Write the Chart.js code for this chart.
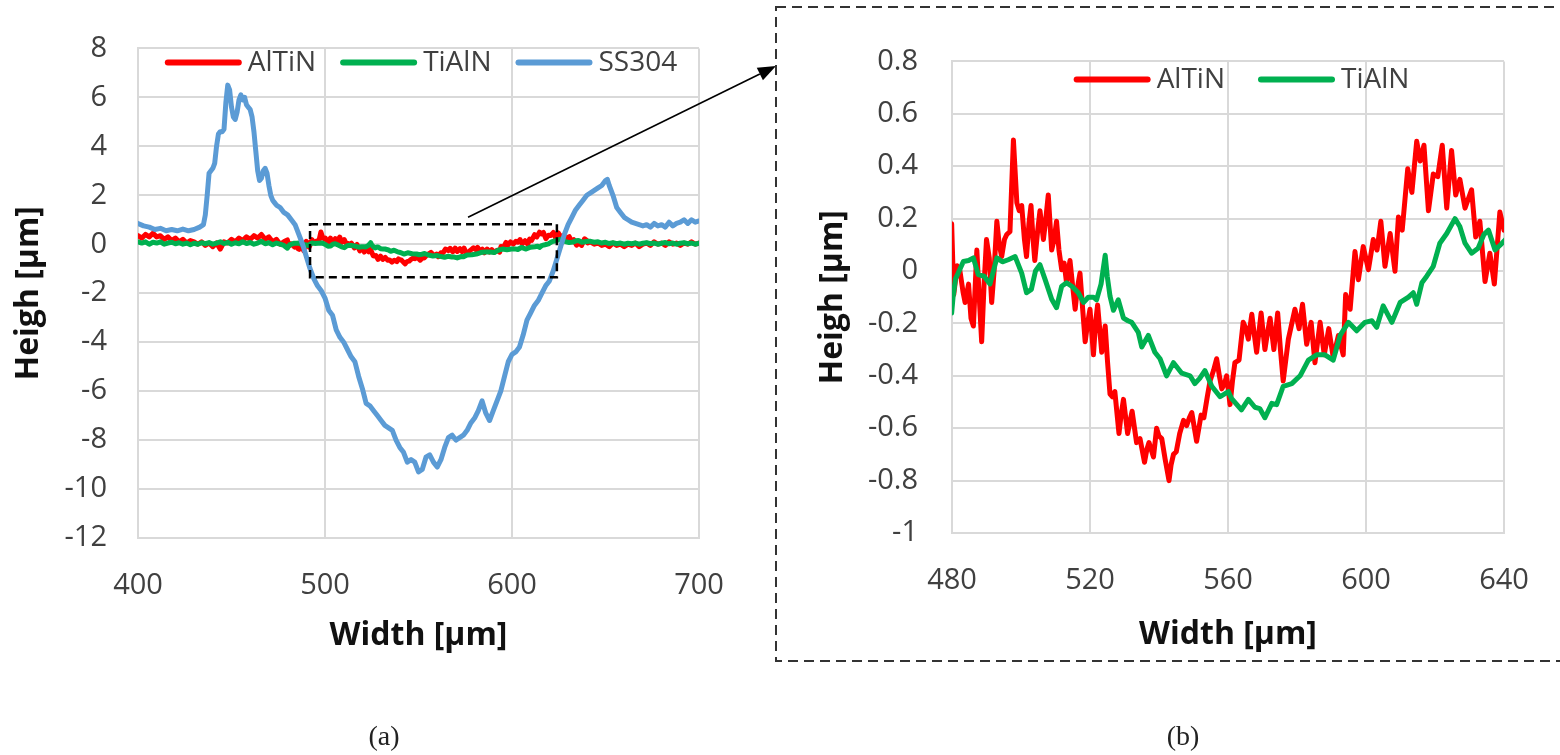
<!DOCTYPE html>
<html><head><meta charset="utf-8">
<script src="https://cdn.jsdelivr.net/npm/chart.js@4.4.1/dist/chart.umd.min.js"></script>
<style>
html,body{margin:0;padding:0;background:#fff;width:1560px;height:755px;overflow:hidden;position:relative}
#ca{position:absolute;left:0;top:0}
#cb{position:absolute;left:780px;top:10px}
#ov{position:absolute;left:0;top:0;pointer-events:none}
.cap{position:absolute;top:720px;font-family:"Liberation Serif","DejaVu Serif",serif;font-size:28px;color:#222;transform:translateX(-50%)}
</style></head><body>
<canvas id="ca" width="780" height="680"></canvas>
<canvas id="cb" width="780" height="650"></canvas>
<svg id="ov" width="1560" height="755"><rect x="776" y="7" width="820" height="654" fill="none" stroke="#333" stroke-width="2" stroke-dasharray="10 6"/></svg>
<div class="cap" style="left:384px">(a)</div>
<div class="cap" style="left:1183px">(b)</div>
<script>
// ---------- categories / tick labels ----------
const seriesNames = ['AlTiN', 'TiAlN', 'SS304'];
const xTicksA = [400, 500, 600, 700];
const yTicksA = [-12, -10, -8, -6, -4, -2, 0, 2, 4, 6, 8];
const xTicksB = [480, 520, 560, 600, 640];
const yTicksB = [-1, -0.8, -0.6, -0.4, -0.2, 0, 0.2, 0.4, 0.6, 0.8];

// ---------- SS304 (chart a) ----------
const ss304X = [400,403,406,409,412,415,418,421,424,427,
430,433,435,436,437,438,439,440,441,442,
443,444,445,446,447,448,449,450,451,452,
453,454,455,456,457,458,459,460,461,462,
463,464,465,466,467,468,469,470,471,472,
473,474,476,478,480,482,484,486,488,490,
492,494,496,498,500,502,504,506,508,510,
512,514,516,518,520,522,524,526,528,530,
532,534,536,538,540,542,544,546,548,550,
552,554,556,558,560,562,564,566,568,570,
572,574,576,578,580,582,584,586,588,590,
592,594,596,598,600,602,604,606,608,610,
612,614,616,618,620,622,624,626,628,630,
632,634,636,638,640,642,644,646,648,650,
651,652,654,656,658,660,662,664,666,668,
670,672,674,676,678,680,682,684,686,688,
690,692,694,696,698,700];
const ss304Y = [0.85,0.75,0.7,0.6,0.65,0.55,0.6,0.55,0.62,0.55,
0.6,0.7,0.8,1.2,2.0,2.9,3.0,3.1,3.3,4.0,
4.5,4.6,4.6,4.7,5.8,6.5,6.3,5.6,5.2,5.1,
5.4,5.9,6.1,5.9,6.0,5.7,5.6,5.5,5.2,4.6,
3.8,3.0,2.6,2.7,3.0,3.1,2.9,2.4,2.0,1.8,
1.7,1.6,1.5,1.3,1.2,1.0,0.8,0.4,0.0,-0.5,
-1.0,-1.4,-1.7,-1.9,-2.2,-2.7,-2.9,-3.5,-3.8,-4.0,
-4.3,-4.6,-4.8,-5.4,-5.9,-6.5,-6.6,-6.8,-7.0,-7.2,
-7.4,-7.5,-7.6,-8.0,-8.3,-8.5,-8.9,-8.8,-8.9,-9.3,
-9.2,-8.7,-8.6,-8.9,-9.1,-8.8,-8.3,-7.9,-7.8,-8.0,
-7.9,-7.8,-7.6,-7.3,-7.1,-6.8,-6.4,-6.9,-7.2,-6.8,
-6.4,-6.0,-5.4,-4.8,-4.5,-4.4,-4.2,-3.7,-3.1,-2.8,
-2.5,-2.3,-2.0,-1.7,-1.5,-1.1,-0.6,-0.1,0.4,0.8,
1.1,1.4,1.6,1.8,2.0,2.1,2.2,2.3,2.4,2.6,
2.65,2.4,2.0,1.5,1.3,1.1,1.0,0.9,0.85,0.8,
0.75,0.8,0.7,0.85,0.75,0.8,0.7,0.9,0.75,0.85,
0.9,1.0,0.85,1.0,0.9,0.95];

// ---------- coatings outside the zoom window (chart a) ----------
const outLeftX = [400,402,404,406,408,410,412,414,416,418,
420,422,424,426,428,430,432,434,436,438,
440,442,444,446,448,450,452,454,456,458,
460,462,464,466,468,470,472,474,476,478];
const altinLeftY = [0.35,0.25,0.4,0.3,0.45,0.3,0.35,0.2,0.3,0.15,
0.25,0.1,0.2,0.05,0.15,0.1,0.0,0.1,-0.05,0.05,
-0.1,0.05,-0.2,0.1,0.05,0.2,0.1,0.25,0.15,0.3,
0.2,0.35,0.25,0.4,0.2,0.3,0.1,0.2,0.0,0.1];
const tialnLeftY = [0.1,0.05,0.1,0.0,0.08,0.05,0.1,0.0,0.05,0.08,
0.02,0.06,0.0,0.05,-0.02,0.04,0.0,0.06,0.02,0.07,
0.0,0.05,0.1,0.03,0.08,0.0,0.06,0.02,0.1,0.03,
0.07,0.0,0.05,0.12,0.02,0.06,-0.02,0.05,0.0,-0.05];
const outRightX = [642,644,646,648,650,652,654,656,658,660,
662,664,666,668,670,672,674,676,678,680,
682,684,686,688,690,692,694,696,698,700];
const altinRightY = [0.1,0.0,0.05,-0.05,0.0,-0.1,0.05,-0.05,0.0,-0.1,
0.0,-0.05,0.05,-0.1,0.0,0.05,-0.05,0.1,0.0,0.05,
-0.05,0.1,0.0,0.05,-0.05,0.05,0.0,0.1,0.0,0.05];
const tialnRightY = [0.12,0.08,0.1,0.05,0.08,0.03,0.06,0.02,0.05,0.0,
0.04,0.02,0.05,0.0,0.04,0.06,0.02,0.05,0.0,0.04,
0.07,0.02,0.05,0.0,0.04,0.06,0.02,0.05,0.0,0.04];

// ---------- zoom window 480-640 (chart b, also used in a) ----------
const altinX = [479.9,480.5,481.5,482.3,483.2,483.8,484.8,485.5,486.2,487.2,
487.9,488.6,489.3,490.0,490.8,491.5,492.2,493.0,493.7,494.4,
495.2,495.9,496.8,497.8,498.8,499.5,500.2,501.0,501.6,502.3,
502.9,503.5,504.0,504.8,505.5,506.5,507.2,507.9,508.9,509.6,
510.3,511.0,511.8,512.5,513.2,514.2,515.0,515.7,516.4,517.1,
517.9,518.6,519.3,520.0,521.0,521.6,522.2,523.4,524.4,525.1,
525.8,526.5,527.2,528.4,529.0,529.7,530.9,531.5,532.2,533.5,
534.5,535.8,536.5,537.1,538.4,539.3,540.0,540.8,541.8,542.9,
543.5,544.2,545.0,546.0,547.1,548.0,548.8,549.5,550.9,552.2,
553.0,554.0,554.8,555.8,556.7,557.5,558.2,559.0,559.6,560.6,
561.3,562.0,563.2,564.4,565.2,565.9,566.9,567.6,568.3,569.6,
570.7,571.4,572.2,573.3,574.4,575.2,576.0,577.5,578.5,579.4,
580.6,581.6,582.8,584.1,585.2,586.7,587.9,589.2,590.5,592.0,
593.4,594.1,595.4,596.8,597.8,599.2,600.7,602.1,603.2,604.3,
605.5,607.0,608.4,609.4,610.5,612.1,613.3,614.7,615.7,616.8,
618.1,619.5,620.8,622.1,623.4,624.8,626.0,627.2,628.7,630.6,
631.8,633.0,634.5,635.9,637.2,638.8,640.0,640.5];
const altinY = [0.18,-0.09,0.02,0.0,-0.08,-0.12,-0.05,-0.18,-0.21,0.08,
-0.1,-0.27,-0.05,0.12,0.05,-0.12,0.0,0.19,0.1,0.055,
0.12,0.14,0.15,0.50,0.26,0.23,0.25,0.12,0.055,0.18,
0.25,0.12,0.04,0.15,0.23,0.12,0.2,0.29,0.08,0.12,
0.19,0.08,0.005,0.03,-0.045,0.04,-0.06,-0.146,-0.06,-0.008,
-0.15,-0.27,-0.2,-0.146,-0.32,-0.2,-0.13,-0.31,-0.21,-0.35,
-0.47,-0.48,-0.46,-0.62,-0.55,-0.49,-0.62,-0.58,-0.535,-0.655,
-0.64,-0.73,-0.68,-0.655,-0.71,-0.60,-0.63,-0.64,-0.72,-0.80,
-0.74,-0.70,-0.69,-0.62,-0.57,-0.59,-0.56,-0.54,-0.65,-0.55,
-0.56,-0.48,-0.42,-0.38,-0.335,-0.4,-0.45,-0.43,-0.40,-0.51,
-0.42,-0.35,-0.34,-0.196,-0.22,-0.26,-0.165,-0.24,-0.31,-0.16,
-0.30,-0.24,-0.18,-0.3,-0.16,-0.3,-0.42,-0.26,-0.2,-0.146,
-0.22,-0.127,-0.28,-0.196,-0.35,-0.196,-0.32,-0.22,-0.33,-0.246,
-0.32,-0.09,-0.146,0.074,-0.033,0.093,0.005,0.12,0.08,0.19,
0.018,0.143,-0.001,0.206,0.156,0.39,0.30,0.495,0.42,0.48,
0.23,0.37,0.36,0.48,0.24,0.46,0.29,0.35,0.24,0.31,
0.13,0.19,-0.04,0.068,-0.05,0.225,0.156,0.05];
const tialnX = [479.9,480.3,481.0,481.8,483.3,484.8,486.2,487.6,489.3,491.0,
493.0,494.6,496.3,498.3,500.2,501.6,503.0,504.2,505.5,507.0,
508.9,510.3,511.8,513.2,514.9,516.6,518.1,519.5,521.0,521.9,
523.2,524.4,525.0,525.8,526.8,528.2,529.7,531.0,532.1,534.0,
535.0,536.9,538.8,540.3,542.2,544.2,546.6,549.0,550.4,551.8,
553.3,555.3,557.7,560.1,561.0,563.9,565.9,567.8,569.2,570.7,
572.7,574.1,576.0,578.5,580.9,583.3,585.7,588.1,590.5,592.5,
594.9,597.3,599.7,601.7,603.1,605.0,607.5,609.9,612.3,613.7,
614.7,616.2,617.6,619.5,621.4,623.4,625.8,627.2,628.7,630.6,
632.5,634.2,635.5,637.4,639.0,640.8];
const tialnY = [-0.16,-0.1,-0.03,-0.008,0.036,0.04,0.05,-0.014,-0.02,-0.05,
0.05,0.035,0.043,0.055,-0.008,-0.083,-0.07,0.0,0.024,-0.033,
-0.108,-0.14,-0.058,-0.045,-0.06,-0.083,-0.12,-0.10,-0.1,-0.11,
-0.05,0.06,-0.02,-0.096,-0.15,-0.11,-0.18,-0.19,-0.196,-0.234,
-0.29,-0.246,-0.31,-0.335,-0.40,-0.35,-0.39,-0.40,-0.43,-0.41,
-0.38,-0.44,-0.48,-0.46,-0.486,-0.53,-0.49,-0.52,-0.525,-0.56,
-0.505,-0.51,-0.44,-0.43,-0.40,-0.34,-0.32,-0.32,-0.34,-0.246,
-0.196,-0.228,-0.196,-0.19,-0.215,-0.133,-0.196,-0.12,-0.10,-0.083,
-0.127,-0.045,-0.02,0.018,0.106,0.143,0.20,0.17,0.106,0.068,
0.087,0.14,0.156,0.08,0.1,0.125];

// ---------- styles ----------
const COL = { AlTiN: '#FF0000', TiAlN: '#00B050', SS304: '#5B9BD5' };
const FONT = '"Open Sans", "DejaVu Sans", sans-serif';
const tickFont = { family: FONT, size: 29 };
const titleFont = { family: FONT, size: 32, weight: 'bold' };
const tickColor = '#404040';
const titleColor = '#111111';
const gridColor = '#D9D9D9';
// annotation config (zoom marker in a, arrow towards b)
const zoomBoxA = { x0: 492, x1: 624, yTop: 0.82, yBot: -1.35 };
const arrowFromA = { x: 576.5, y: 1.1 };
const arrowTipPx = { x: 776, y: 66 };

const pts = (xs, ys) => xs.map((x, i) => ({ x: x, y: ys[i] }));

const inlineLegend = {
  id: 'inlineLegend',
  afterDraw(chart, args, o) {
    const ctx = chart.ctx, ca = chart.chartArea;
    ctx.save();
    ctx.font = o.font;
    const items = chart.data.datasets.map(d => ({ label: d.label, color: d.borderColor, w: ctx.measureText(d.label).width }));
    const total = items.reduce((s, it) => s + o.lineLen + o.gap + it.w, 0) + o.spacing * (items.length - 1);
    let x = (ca.left + ca.right) / 2 - total / 2 + o.shift;
    const y = ca.top + o.dy;
    items.forEach(it => {
      ctx.strokeStyle = it.color; ctx.lineWidth = o.lw; ctx.lineCap = 'round';
      ctx.beginPath(); ctx.moveTo(x + 2, y); ctx.lineTo(x + o.lineLen - 2, y); ctx.stroke();
      x += o.lineLen + o.gap;
      ctx.fillStyle = tickColor; ctx.textBaseline = 'middle'; ctx.textAlign = 'left';
      ctx.fillText(it.label, x, y + 1);
      x += it.w + o.spacing;
    });
    ctx.restore();
  }
};

const zoomMarker = {
  id: 'zoomMarker',
  afterDraw(chart) {
    if (!chart.options.plugins.zoomMarker) return;
    const { ctx } = chart; const sx = chart.scales.x, sy = chart.scales.y;
    const x0 = sx.getPixelForValue(zoomBoxA.x0), x1 = sx.getPixelForValue(zoomBoxA.x1);
    const y0 = sy.getPixelForValue(zoomBoxA.yTop), y1 = sy.getPixelForValue(zoomBoxA.yBot);
    ctx.save();
    ctx.strokeStyle = '#000'; ctx.lineWidth = 2.5; ctx.setLineDash([8, 5]);
    ctx.strokeRect(x0, y0, x1 - x0, y1 - y0);
    ctx.setLineDash([]);
    const ax = sx.getPixelForValue(arrowFromA.x), ay = sy.getPixelForValue(arrowFromA.y);
    const ex = arrowTipPx.x, ey = arrowTipPx.y;
    const ang = Math.atan2(ey - ay, ex - ax);
    const L = 18, W = 7;
    const bx = ex - L * Math.cos(ang), by = ey - L * Math.sin(ang);
    ctx.lineWidth = 1.6; ctx.beginPath(); ctx.moveTo(ax, ay); ctx.lineTo(bx, by); ctx.stroke();
    ctx.fillStyle = '#000'; ctx.beginPath();
    ctx.moveTo(ex, ey);
    ctx.lineTo(bx + W * Math.sin(ang), by - W * Math.cos(ang));
    ctx.lineTo(bx - W * Math.sin(ang), by + W * Math.cos(ang));
    ctx.closePath(); ctx.fill();
    ctx.restore();
  }
};

function axisX(min, max, ticks, h, titlePadBottom) {
  return {
    type: 'linear', min: min, max: max,
    afterBuildTicks: s => { s.ticks = ticks.map(v => ({ value: v })); },
    afterFit: s => { s.height = h; },
    ticks: { font: tickFont, color: tickColor, padding: 30, maxRotation: 0, autoSkip: false, callback: v => String(v) },
    grid: { color: gridColor, lineWidth: 2, drawTicks: false },
    border: { color: gridColor, width: 2 },
    title: { display: true, text: 'Width [µm]', font: titleFont, color: titleColor, padding: { top: 0, bottom: titlePadBottom } }
  };
}
function axisY(min, max, ticks, w, tickPad, titlePadTop) {
  return {
    min: min, max: max,
    afterBuildTicks: s => { s.ticks = ticks.map(v => ({ value: v })); },
    afterFit: s => { s.width = w; },
    ticks: { font: tickFont, color: tickColor, padding: tickPad, autoSkip: false, callback: v => String(Math.round(v * 10) / 10) },
    grid: { color: gridColor, lineWidth: 2, drawTicks: false },
    border: { color: gridColor, width: 2 },
    title: { display: true, text: 'Heigh [µm]', font: titleFont, color: titleColor, padding: { top: titlePadTop, bottom: 0 } }
  };
}
function ds(name, data, width, order) {
  return { label: name, data: data, borderColor: COL[name], backgroundColor: COL[name], borderWidth: width,
    pointRadius: 0, tension: 0, fill: false, order: order, borderJoinStyle: 'round', borderCapStyle: 'round' };
}

const altinA = pts(outLeftX, altinLeftY).concat(pts(altinX, altinY), pts(outRightX, altinRightY));
const tialnA = pts(outLeftX, tialnLeftY).concat(pts(tialnX, tialnY), pts(outRightX, tialnRightY));

new Chart(document.getElementById('ca'), {
  type: 'line',
  data: { datasets: [
    ds(seriesNames[0], altinA, 5, 2),
    ds(seriesNames[1], tialnA, 5, 1),
    ds(seriesNames[2], pts(ss304X, ss304Y), 5, 0)
  ] },
  options: {
    responsive: false, animation: false, events: [],
    layout: { padding: { left: 0, top: 48, right: 81, bottom: 0 } },
    scales: { x: axisX(400, 700, xTicksA, 142, 25), y: axisY(-12, 8, yTicksA, 138, 31, 10) },
    plugins: { legend: { display: false }, tooltip: { enabled: false },
      inlineLegend: { font: '28px ' + FONT, lineLen: 75, gap: 7, spacing: 25, lw: 6, dy: 14, shift: 3 },
      zoomMarker: true }
  },
  plugins: [inlineLegend, zoomMarker]
});

new Chart(document.getElementById('cb'), {
  type: 'line',
  data: { datasets: [
    ds(seriesNames[0], pts(altinX, altinY), 5, 1),
    ds(seriesNames[1], pts(tialnX, tialnY), 5, 0)
  ] },
  options: {
    responsive: false, animation: false, events: [],
    layout: { padding: { left: 0, top: 46, right: 56, bottom: 0 } },
    scales: { x: axisX(480, 640, xTicksB, 127, 6), y: axisY(-1, 0.8, yTicksB, 172, 34, 34) },
    plugins: { legend: { display: false }, tooltip: { enabled: false },
      inlineLegend: { font: '28px ' + FONT, lineLen: 75, gap: 7, spacing: 34, lw: 6, dy: 18, shift: 14 } }
  },
  plugins: [inlineLegend]
});
</script>
</body></html>
